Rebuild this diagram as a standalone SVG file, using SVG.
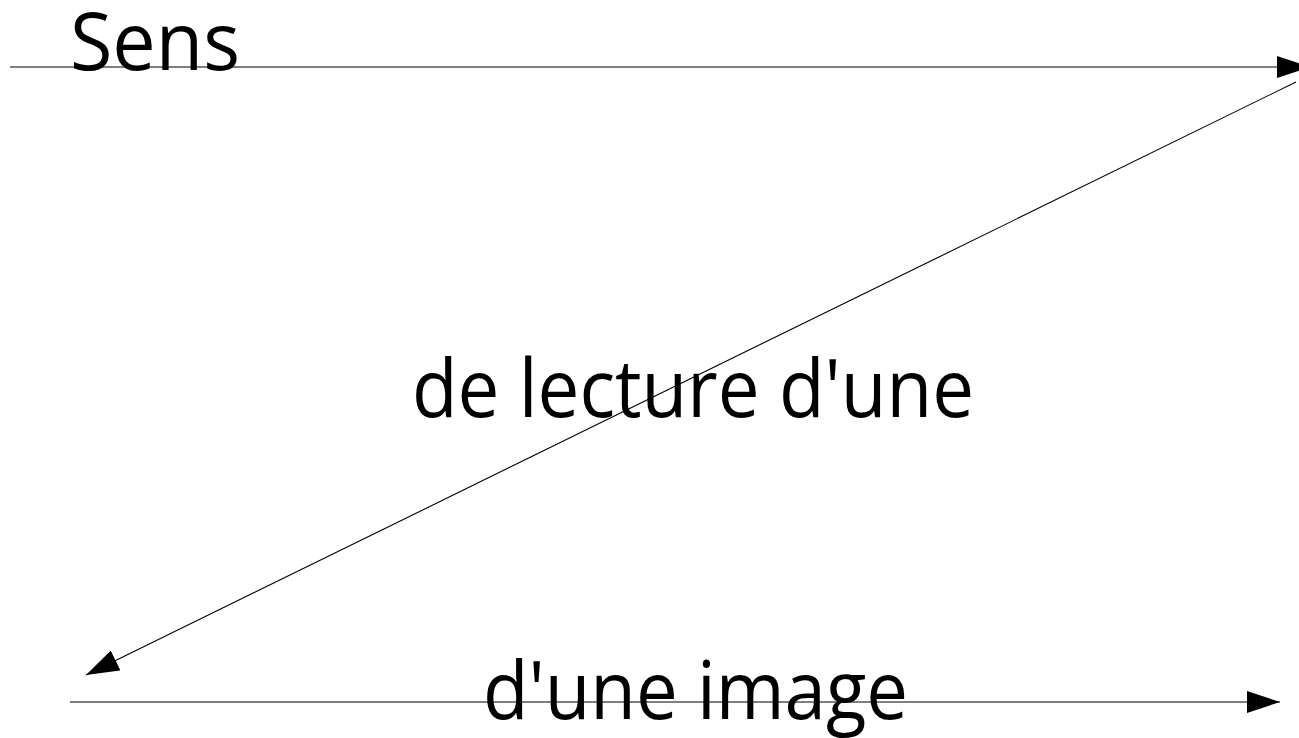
<svg xmlns="http://www.w3.org/2000/svg" width="1299" height="738" viewBox="0 0 1299 738">
<style>
.lbl{font-family:"Open Sans","Noto Sans","Liberation Sans",sans-serif;font-size:81px;fill:#000}
.cn{stroke:#000;stroke-width:1.1;fill:none}
</style>
<defs>
<marker id="ah" markerUnits="userSpaceOnUse" markerWidth="34" markerHeight="22" refX="33" refY="11" orient="auto" viewBox="0 0 34 22">
<path d="M0,0 L33,11 L0,22 Z" fill="#000"/>
</marker>
</defs>
<rect width="1299" height="738" fill="#fff"/>
<g id="connectors">
<line class="cn" x1="10" y1="67" x2="1310" y2="67" marker-end="url(#ah)"/>
<line class="cn" x1="1296" y1="82" x2="86" y2="675" marker-end="url(#ah)"/>
<line class="cn" x1="70" y1="702" x2="1280" y2="702" marker-end="url(#ah)"/>
</g>
<g id="node-sens"><text class="lbl" x="70" y="70" textLength="170" lengthAdjust="spacingAndGlyphs">Sens</text></g>
<g id="node-lecture"><text class="lbl" x="412" y="417" textLength="562" lengthAdjust="spacingAndGlyphs">de lecture d'une</text></g>
<g id="node-image"><text class="lbl" x="483" y="719" textLength="425" lengthAdjust="spacingAndGlyphs">d'une image</text></g>
</svg>
